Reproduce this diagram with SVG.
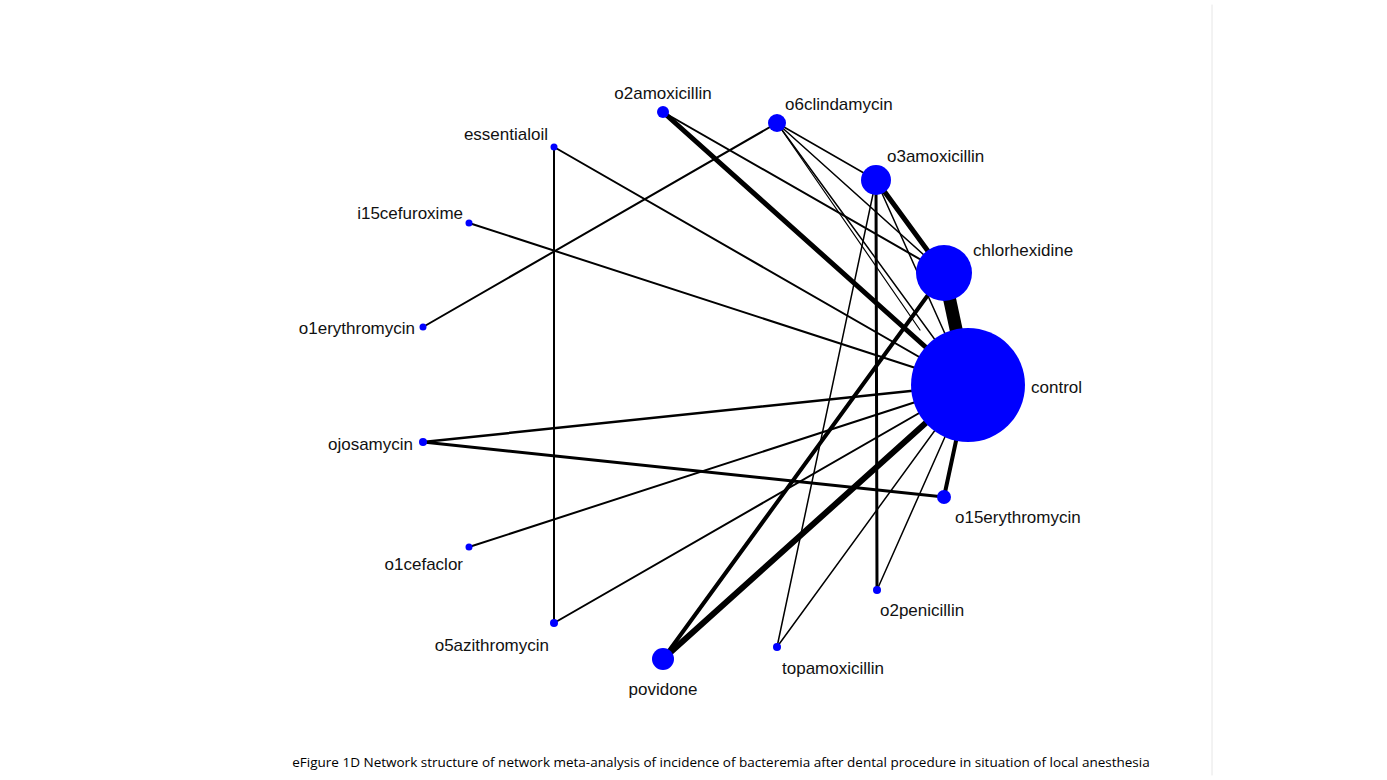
<svg xmlns="http://www.w3.org/2000/svg" width="1387" height="780" viewBox="0 0 1387 780">
<style>
.n{fill:#0000ff}
.l{font-family:"Liberation Sans",Arial,sans-serif;font-size:17px;fill:#111}
line{stroke:#000;stroke-linecap:round}
</style>
<rect width="1387" height="780" fill="#fff"/>
<line x1="1212" y1="5" x2="1212" y2="775" style="stroke:#e6e6e6;stroke-width:1"/>
<g id="connectors">
<line x1="663" y1="112" x2="968" y2="385" stroke-width="5"/>
<line x1="663" y1="112" x2="944" y2="273" stroke-width="2"/>
<line x1="777" y1="123" x2="423" y2="327" stroke-width="2"/>
<line x1="777" y1="123" x2="876" y2="180" stroke-width="1.5"/>
<line x1="777" y1="123" x2="944" y2="273" stroke-width="1.5"/>
<line x1="777" y1="123" x2="968" y2="385" stroke-width="1.5"/>
<line x1="777" y1="123" x2="920" y2="330" stroke-width="1.2"/>
<line x1="554" y1="147" x2="554" y2="623" stroke-width="2"/>
<line x1="554" y1="147" x2="968" y2="385" stroke-width="2"/>
<line x1="469" y1="223" x2="968" y2="385" stroke-width="2"/>
<line x1="876" y1="180" x2="944" y2="273" stroke-width="5"/>
<line x1="876" y1="180" x2="968" y2="385" stroke-width="1.5"/>
<line x1="876" y1="180" x2="877" y2="590" stroke-width="3"/>
<line x1="876" y1="180" x2="777" y2="647" stroke-width="1.5"/>
<line x1="944" y1="273" x2="968" y2="385" stroke-width="13"/>
<line x1="944" y1="273" x2="663" y2="659" stroke-width="4"/>
<line x1="423" y1="442" x2="968" y2="385" stroke-width="2.5"/>
<line x1="423" y1="442" x2="944" y2="497" stroke-width="3"/>
<line x1="469" y1="547" x2="968" y2="385" stroke-width="2"/>
<line x1="554" y1="623" x2="968" y2="385" stroke-width="2"/>
<line x1="663" y1="659" x2="968" y2="385" stroke-width="6"/>
<line x1="777" y1="647" x2="968" y2="385" stroke-width="1.5"/>
<line x1="877" y1="590" x2="968" y2="385" stroke-width="1.5"/>
<line x1="944" y1="497" x2="968" y2="385" stroke-width="4"/>
</g>
<g id="o2amoxicillin"><circle class="n" cx="663" cy="112" r="6"/><text class="l" x="663" y="99" text-anchor="middle">o2amoxicillin</text></g>
<g id="o6clindamycin"><circle class="n" cx="777" cy="123" r="9"/><text class="l" x="785" y="110">o6clindamycin</text></g>
<g id="essentialoil"><circle class="n" cx="554" cy="147" r="3.5"/><text class="l" x="548" y="140" text-anchor="end">essentialoil</text></g>
<g id="o3amoxicillin"><circle class="n" cx="876" cy="180" r="15"/><text class="l" x="887" y="162">o3amoxicillin</text></g>
<g id="i15cefuroxime"><circle class="n" cx="469" cy="223" r="3.5"/><text class="l" x="463" y="219" text-anchor="end">i15cefuroxime</text></g>
<g id="chlorhexidine"><circle class="n" cx="944" cy="273" r="28"/><text class="l" x="973" y="256">chlorhexidine</text></g>
<g id="o1erythromycin"><circle class="n" cx="423" cy="327" r="3.5"/><text class="l" x="415" y="334" text-anchor="end">o1erythromycin</text></g>
<g id="control"><circle class="n" cx="968" cy="385" r="57"/><text class="l" x="1031" y="393">control</text></g>
<g id="ojosamycin"><circle class="n" cx="423" cy="442" r="4"/><text class="l" x="413" y="450" text-anchor="end">ojosamycin</text></g>
<g id="o15erythromycin"><circle class="n" cx="944" cy="497" r="7"/><text class="l" x="955" y="523">o15erythromycin</text></g>
<g id="o1cefaclor"><circle class="n" cx="469" cy="547" r="3.5"/><text class="l" x="463" y="570" text-anchor="end">o1cefaclor</text></g>
<g id="o2penicillin"><circle class="n" cx="877" cy="590" r="4"/><text class="l" x="880" y="616">o2penicillin</text></g>
<g id="o5azithromycin"><circle class="n" cx="554" cy="623" r="4"/><text class="l" x="549" y="651" text-anchor="end">o5azithromycin</text></g>
<g id="povidone"><circle class="n" cx="663" cy="659" r="11"/><text class="l" x="663" y="695" text-anchor="middle">povidone</text></g>
<g id="topamoxicillin"><circle class="n" cx="777" cy="647" r="4"/><text class="l" x="782" y="674">topamoxicillin</text></g>
<text x="721" y="767" text-anchor="middle" style="font-family:'Open Sans','DejaVu Sans',sans-serif;font-size:13.5px;fill:#000">eFigure 1D Network structure of network meta-analysis of incidence of bacteremia after dental procedure in situation of local anesthesia</text>
</svg>
